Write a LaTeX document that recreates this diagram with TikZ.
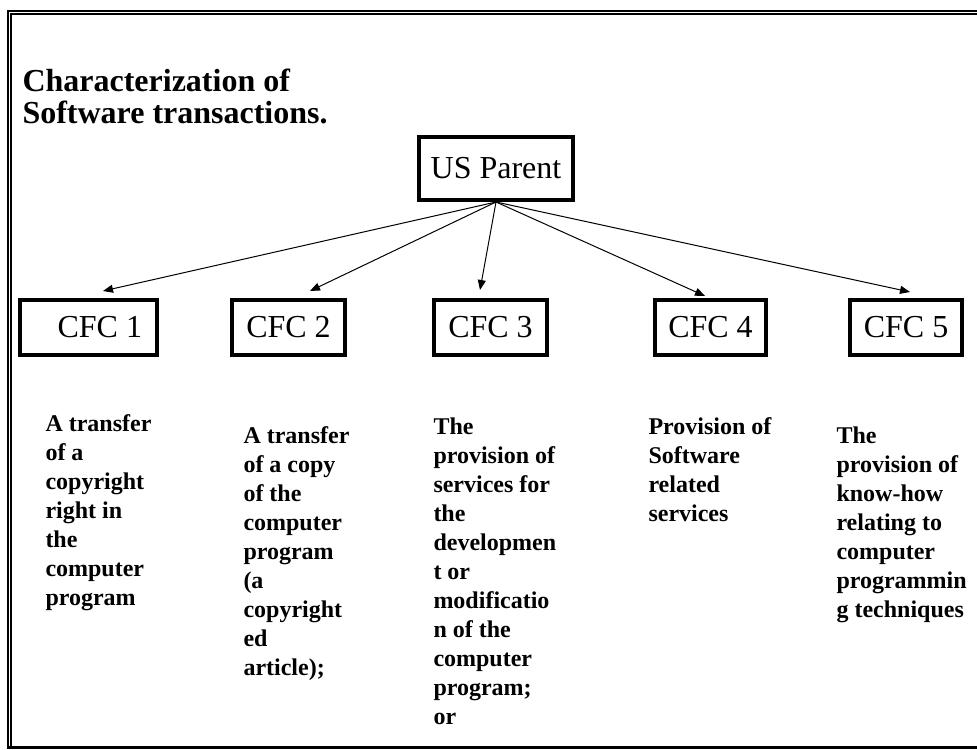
\documentclass[tikz,border=0pt]{standalone}
\usepackage{fontspec}
\setmainfont{Liberation Serif}
\usetikzlibrary{arrows.meta,calc}

\tikzset{every picture/.style={line width=0.75pt}}
\tikzset{
  cfcbox/.style={draw, line width=3pt, inner sep=0pt, minimum height=41.25pt, font=\fontsize{24}{28}\selectfont},
  desctext/.style={anchor=north west, inner sep=0pt, align=left, font=\fontsize{18}{21.75}\selectfont\bfseries},
  fanarrow/.style={-{Triangle[length=7.5pt,width=6pt]}},
}

\begin{document}
\begin{tikzpicture}[x=0.75pt,y=0.75pt,yscale=-1,xscale=1]
	\useasboundingbox (0,0) rectangle (977,749);

	%Frame (double on top and left)
	\draw [line width=1.5pt] (8.3,749) -- (8.3,11) -- (977,11) ;
	\draw [line width=1.5pt] (11.2,747) -- (11.2,14.3) -- (977,14.3) ;
	\draw [line width=2pt] (8.3,747.7) -- (977,747.7) ;

	% Title
	\node [anchor=north west, inner sep=0pt, align=left, font=\fontsize{24}{24}\selectfont\bfseries] (title) at (22,68) {Characterization of\\Software transactions.};

	% Parent box
	\node [cfcbox, minimum width=115.5pt, minimum height=47.25pt] (parent) at (496,168.5) {US Parent};

	% CFC boxes
	\node [cfcbox, minimum width=102.75pt] (cfc1) at (88.5,327.5) {\hspace*{17pt}CFC 1};
	\node [cfcbox, minimum width=84.75pt] (cfc2) at (288.5,327.5) {CFC 2};
	\node [cfcbox, minimum width=84.75pt] (cfc3) at (490.5,327.5) {CFC 3};
	\node [cfcbox, minimum width=83.25pt] (cfc4) at (710.5,327.5) {CFC 4};
	\node [cfcbox, minimum width=84pt] (cfc5) at (906,327.5) {CFC 5};

	% Arrows
	\draw [fanarrow] (parent.south) -- ($(cfc1.north)+(14.5,-7)$) ;
	\draw [fanarrow] (parent.south) -- ($(cfc2.north)+(21.5,-7)$) ;
	\draw [fanarrow] (parent.south) -- ($(cfc3.north)+(-10.5,-8)$) ;
	\draw [fanarrow] (parent.south) -- ($(cfc4.north)+(-5.5,-2)$) ;
	\draw [fanarrow] (parent.south) -- ($(cfc5.north)+(4,-6)$) ;

	% Text Nodes
	\node [desctext] (desc1) at (45,414) {A transfer\\of a\\copyright\\right in\\the\\computer\\program};
	\node [desctext] (desc2) at (243,426) {A transfer\\of a copy\\of the\\computer\\program\\(a\\copyright\\ed\\article);};
	\node [desctext] (desc3) at (433,417) {The\\provision of\\services for\\the\\developmen\\t or\\modificatio\\n of the\\computer\\program;\\or};
	\node [desctext] (desc4) at (648,417) {Provision of\\Software\\related\\services};
	\node [desctext] (desc5) at (836,426) {The\\provision of\\know-how\\relating to\\computer\\programmin\\g techniques};

\end{tikzpicture}
\end{document}
